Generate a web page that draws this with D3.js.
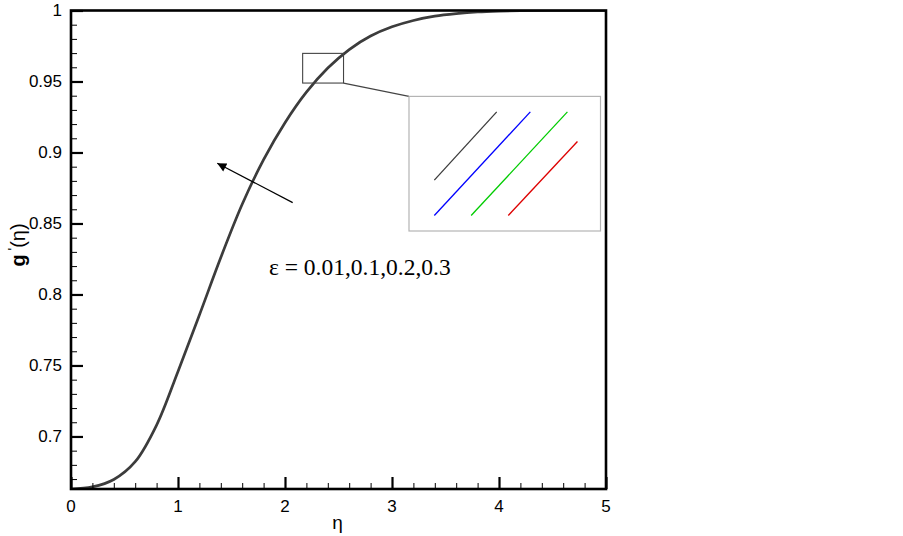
<!DOCTYPE html>
<html><head><meta charset="utf-8">
<script src="https://cdn.jsdelivr.net/npm/d3@7"></script>
<style>
html,body{margin:0;padding:0;background:#fff;}
svg{display:block;}
</style></head>
<body>
<svg id="chart" width="903" height="536"></svg>
<script>
// ---- data ----
const eta = [0,0.2,0.4,0.6,0.8,1.0,1.2,1.4,1.6,1.8,2.0,2.2,2.4,2.6,2.8,3.0,3.2,3.4,3.6,3.8,4.0,4.2,4.5,5.0];
const gPrime = [0.663,0.6645,0.6697,0.6822,0.7080,0.7458,0.7855,0.8260,0.8635,0.8950,0.9210,0.9425,0.9595,0.9725,0.9820,0.9885,0.9930,0.9960,0.9978,0.9990,0.9996,0.9999,1.0,1.0];
const xTicks = [0,1,2,3,4,5];
const yTicks = [0.7,0.75,0.8,0.85,0.9,0.95,1];
const yTickLabels = ["0.7","0.75","0.8","0.85","0.9","0.95","1"];
const epsValues = [0.01,0.1,0.2,0.3];
const insetColors = ["#3c3c3c","#0000ff","#00cc00","#dd0000"];
// zoomed segments (eta, g') for each epsilon, shown inside the inset
const insetEta0 = [2.2155,2.2155,2.289,2.363];
const insetG0   = [0.9568,0.9513,0.9513,0.9513];
const insetEta1 = [2.340,2.407,2.481,2.501];
const insetG1   = [0.9674,0.9674,0.9674,0.9628];
const zoomEta = [2.165,2.547];
const zoomG = [0.9489,0.9698];

// ---- layout ----
const L = 71, R = 606, T = 10.5, B = 489;
const svg = d3.select("#chart");
const x = d3.scaleLinear().domain([0,5]).range([L,R]);
const y = d3.scaleLinear().domain([0.663,1]).range([B,T]);

svg.append("defs").append("clipPath").attr("id","clip")
  .append("rect").attr("x",L).attr("y",T).attr("width",R-L).attr("height",B-T);

// curve
const line = d3.line().x((d,i)=>x(eta[i])).y((d,i)=>y(gPrime[i])).curve(d3.curveCatmullRom.alpha(0.5));
svg.append("path").datum(gPrime).attr("d",line).attr("clip-path","url(#clip)")
  .attr("fill","none").attr("stroke","#3c3c3c").attr("stroke-width",2.7);

// ticks (inward) via axes
const xMinor = d3.range(0,5.0001,0.2).filter(v=>Math.abs(v-Math.round(v))>1e-6);
const yMinor = d3.range(0.67,0.9999,0.01).filter(v=>Math.abs(v*20-Math.round(v*20))>1e-6);

const gx = svg.append("g").attr("transform",`translate(0,${B})`);
gx.call(d3.axisTop(x).tickValues(xTicks).tickSize(12).tickFormat(""));
gx.call(g=>g.select(".domain").remove());
gx.selectAll("line").attr("stroke","#000").attr("stroke-width",2.2);
const gxm = svg.append("g").attr("transform",`translate(0,${B})`);
gxm.call(d3.axisTop(x).tickValues(xMinor).tickSize(6).tickFormat(""));
gxm.call(g=>g.select(".domain").remove());
gxm.selectAll("line").attr("stroke","#000").attr("stroke-width",1);

const gy = svg.append("g").attr("transform",`translate(${L},0)`);
gy.call(d3.axisRight(y).tickValues(yTicks).tickSize(12).tickFormat(""));
gy.call(g=>g.select(".domain").remove());
gy.selectAll("line").attr("stroke","#000").attr("stroke-width",2.2);
const gym = svg.append("g").attr("transform",`translate(${L},0)`);
gym.call(d3.axisRight(y).tickValues(yMinor).tickSize(6).tickFormat(""));
gym.call(g=>g.select(".domain").remove());
gym.selectAll("line").attr("stroke","#000").attr("stroke-width",1);

// tick labels
svg.append("g").selectAll("text").data(xTicks).join("text")
  .attr("x",d=>x(d)).attr("y",B+23).attr("text-anchor","middle")
  .attr("font-family","Arial, 'Liberation Sans', sans-serif").attr("font-size",17)
  .text(d=>d);
svg.append("g").selectAll("text").data(yTicks).join("text")
  .attr("x",L-9).attr("y",d=>y(d)).attr("dy","0.35em").attr("text-anchor","end")
  .attr("font-family","Arial, 'Liberation Sans', sans-serif").attr("font-size",17)
  .text((d,i)=>yTickLabels[i]);

// frame
svg.append("rect").attr("x",L).attr("y",T).attr("width",R-L).attr("height",B-T)
  .attr("fill","none").attr("stroke","#000").attr("stroke-width",2.6);

// axis titles
svg.append("text").attr("x",(L+R)/2-1).attr("y",529).attr("text-anchor","middle")
  .attr("font-family","Arial, 'Liberation Sans', sans-serif").attr("font-size",19).text("η");
const yl = svg.append("text").attr("transform","translate(25,245) rotate(-90)")
  .attr("text-anchor","middle").attr("font-family","Arial, 'Liberation Sans', sans-serif").attr("font-size",20);
yl.append("tspan").attr("font-weight","bold").text("g");
yl.append("tspan").attr("dy",-7).attr("font-size",14).text(" '");
yl.append("tspan").attr("dy",7).text("(η)");

// zoom rectangle on the curve
svg.append("rect").attr("x",x(zoomEta[0])).attr("y",y(zoomG[1]))
  .attr("width",x(zoomEta[1])-x(zoomEta[0])).attr("height",y(zoomG[0])-y(zoomG[1]))
  .attr("fill","none").attr("stroke","#444").attr("stroke-width",1.1);

// inset box
const IX0 = 409, IX1 = 600.5, IY0 = 96.4, IY1 = 231;
const xi = d3.scaleLinear().domain(zoomEta).range([IX0,IX1]);
const yi = d3.scaleLinear().domain(zoomG).range([IY1,IY0]);
svg.append("line").attr("x1",x(zoomEta[1])).attr("y1",y(zoomG[0])).attr("x2",IX0).attr("y2",IY0)
  .attr("stroke","#444").attr("stroke-width",1.2);
svg.append("rect").attr("x",IX0).attr("y",IY0).attr("width",IX1-IX0).attr("height",IY1-IY0)
  .attr("fill","#fff").attr("stroke","#b4b4b4").attr("stroke-width",1.2);
svg.append("g").selectAll("line").data(epsValues).join("line")
  .attr("x1",(d,i)=>xi(insetEta0[i])).attr("y1",(d,i)=>yi(insetG0[i]))
  .attr("x2",(d,i)=>xi(insetEta1[i])).attr("y2",(d,i)=>yi(insetG1[i]))
  .attr("stroke",(d,i)=>insetColors[i]).attr("stroke-width",1.3);

// arrow
svg.append("defs").append("marker").attr("id","ah").attr("viewBox","0 0 10 10")
  .attr("refX",10).attr("refY",5).attr("markerWidth",17).attr("markerHeight",9)
  .attr("markerUnits","userSpaceOnUse").attr("orient","auto")
  .append("path").attr("d","M0,0 L10,5 L0,10 Z").attr("fill","#000");
svg.append("line").attr("x1",x(2.072)).attr("y1",y(0.8647)).attr("x2",x(1.367)).attr("y2",y(0.8924))
  .attr("stroke","#000").attr("stroke-width",1.2).attr("marker-end","url(#ah)");

// annotation
svg.append("text").attr("x",x(1.85)).attr("y",y(0.8137))
  .attr("font-family","'Times New Roman','Liberation Serif',serif").attr("font-size",23.5)
  .text("ε = " + epsValues.join(","));
</script>
</body></html>
